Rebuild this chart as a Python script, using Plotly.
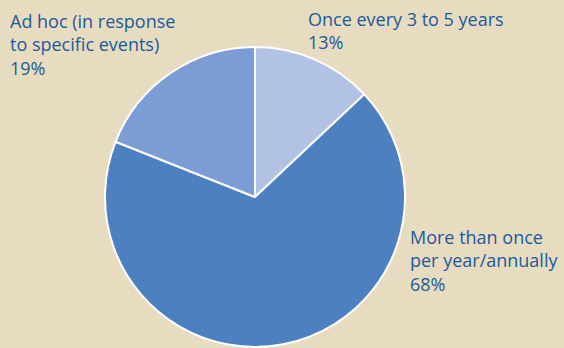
import plotly.graph_objects as go

categories = ["Once every 3 to 5 years", "More than once<br>per year/annually", "Ad hoc (in response<br>to specific events)"]
values = [13, 68, 19]
colors = ["#b1c2e4", "#4d80c1", "#7b9dd3"]

W, H = 564, 348
fig = go.Figure(go.Pie(
    labels=categories,
    values=values,
    sort=False,
    direction="clockwise",
    rotation=0,
    marker=dict(colors=colors, line=dict(color="white", width=2)),
    textinfo="none",
    hoverinfo="label+percent",
    showlegend=False,
    domain=dict(x=[105 / W, 405 / W], y=[1 / H, 301 / H]),
))

# label positions (left x, top y in pixels)
label_pos = [(306, 5), (408, 223), (8, 7)]
for cat, v, (px, py) in zip(categories, values, label_pos):
    fig.add_annotation(
        x=px / W, y=1 - py / H, xref="paper", yref="paper",
        xanchor="left", yanchor="top", align="left",
        text=f"{cat}<br>{v}%", showarrow=False,
        font=dict(family="Open Sans", size=18, color="#1a5a9c"),
    )

fig.update_layout(
    width=W, height=H,
    margin=dict(l=0, r=0, t=0, b=0),
    paper_bgcolor="#e8dcc0",
    plot_bgcolor="#e8dcc0",
)
fig.write_html("out.html", config={"displayModeBar": False})

with open("out.html", "r", encoding="utf-8") as f:
    html = f.read()
html = html.replace("<head>", "<head><style>html,body{margin:0;padding:0;overflow:hidden;background:#e8dcc0;}</style>", 1)
with open("out.html", "w", encoding="utf-8") as f:
    f.write(html)
